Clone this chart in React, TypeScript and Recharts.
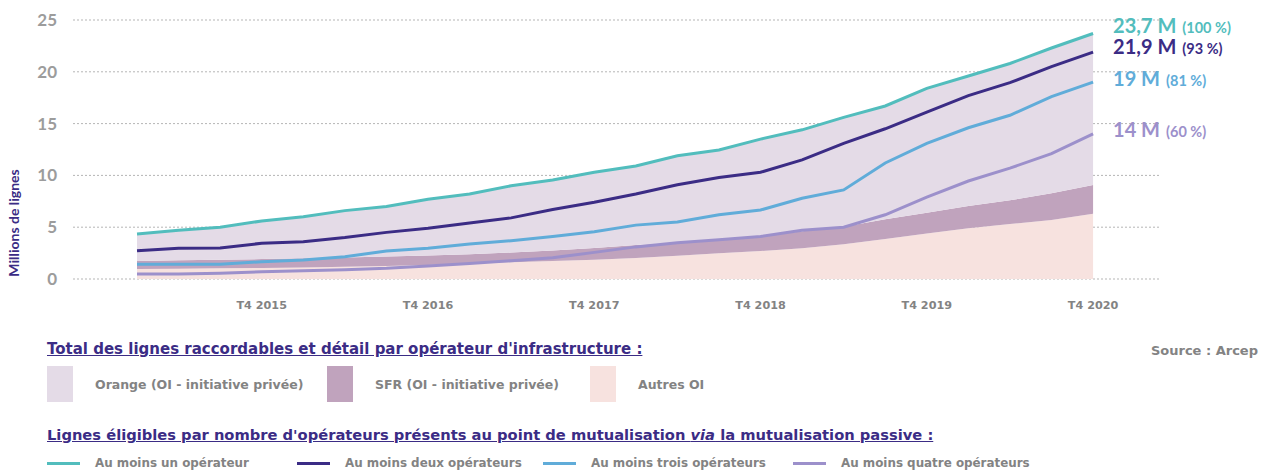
import { ComposedChart, Area, Line, XAxis, YAxis, CartesianGrid } from "recharts";

const quarters = [
  "T1 2015", "T2 2015", "T3 2015", "T4 2015",
  "T1 2016", "T2 2016", "T3 2016", "T4 2016",
  "T1 2017", "T2 2017", "T3 2017", "T4 2017",
  "T1 2018", "T2 2018", "T3 2018", "T4 2018",
  "T1 2019", "T2 2019", "T3 2019", "T4 2019",
  "T1 2020", "T2 2020", "T3 2020", "T4 2020",
];

// lignes raccordables par OI (millions)
const autresOI = [0.97, 1.0, 1.03, 1.07, 1.12, 1.19, 1.25, 1.35, 1.5, 1.62, 1.74, 1.87, 2.03, 2.25, 2.48, 2.7, 2.96, 3.35, 3.86, 4.4, 4.9, 5.3, 5.7, 6.3];
const sfrOI = [0.77, 0.8, 0.82, 0.85, 0.88, 0.89, 0.92, 0.92, 0.9, 0.93, 1.01, 1.13, 1.25, 1.25, 1.3, 1.4, 1.64, 1.7, 1.9, 2.0, 2.15, 2.3, 2.57, 2.77];
const orangeOI = [2.61, 2.9, 3.15, 3.68, 4.0, 4.52, 4.83, 5.43, 5.8, 6.45, 6.8, 7.3, 7.62, 8.4, 8.67, 9.4, 9.8, 10.55, 10.94, 12.0, 12.55, 13.2, 14.03, 14.63];

// lignes éligibles par nombre d'opérateurs au PM (millions)
const auMoins1 = [4.35, 4.7, 5.0, 5.6, 6.0, 6.6, 7.0, 7.7, 8.2, 9.0, 9.55, 10.3, 10.9, 11.9, 12.45, 13.5, 14.4, 15.6, 16.7, 18.4, 19.6, 20.8, 22.3, 23.7];
const auMoins2 = [2.73, 2.96, 3.0, 3.45, 3.6, 4.0, 4.5, 4.9, 5.4, 5.9, 6.7, 7.4, 8.2, 9.1, 9.8, 10.3, 11.5, 13.1, 14.5, 16.1, 17.7, 18.95, 20.5, 21.9];
const auMoins3 = [1.42, 1.42, 1.42, 1.67, 1.83, 2.15, 2.7, 2.96, 3.38, 3.7, 4.1, 4.57, 5.2, 5.5, 6.2, 6.66, 7.8, 8.6, 11.2, 13.1, 14.6, 15.8, 17.6, 19.0];
const auMoins4 = [0.48, 0.48, 0.55, 0.7, 0.8, 0.9, 1.03, 1.25, 1.5, 1.77, 2.06, 2.57, 3.1, 3.5, 3.8, 4.1, 4.7, 5.0, 6.2, 7.9, 9.46, 10.7, 12.1, 14.0];

const endValues = ["23,7 M", "21,9 M", "19 M", "14 M"];
const endShares = ["(100 %)", "(93 %)", "(81 %)", "(60 %)"];
const lineNames = ["Au moins un opérateur", "Au moins deux opérateurs", "Au moins trois opérateurs", "Au moins quatre opérateurs"];
const areaNames = ["Orange (OI - initiative privée)", "SFR (OI - initiative privée)", "Autres OI"];
const yTicks = [0, 5, 10, 15, 20, 25];
const xTicks = [3, 7, 11, 15, 19, 23];

const LINE_KEYS = ["un", "deux", "trois", "quatre"];
const LINE_COLORS = ["#52bdbd", "#3b2c85", "#60acd9", "#9c90cb"];
const LABEL_DY = [0, 2, 4, 3];
const AREA_COLORS = ["#e4dbe7", "#c0a3bd", "#f7e2df"];
const PURPLE = "#3b2c85", GREY = "#838383", AXIS_GREY = "#9c9c9c";
const FONT = "Lato, 'Open Sans', sans-serif";
const WIDE = "'DejaVu Sans', Verdana, sans-serif";

const data = quarters.map((q, i) => ({
  idx: i, q,
  autres: autresOI[i], sfr: sfrOI[i], orange: orangeOI[i],
  un: auMoins1[i], deux: auMoins2[i], trois: auMoins3[i], quatre: auMoins4[i],
}));

const endLabel = (k: number) => (p: any) => {
  if (p.index !== quarters.length - 1) return <g key={p.index} />;
  return (
    <text key={p.index} x={p.x + 20} y={p.y + LABEL_DY[k]} fill={LINE_COLORS[k]} fontFamily={FONT} fontWeight={700}>
      <tspan fontSize={20}>{endValues[k]}</tspan>
      <tspan fontSize={14.5} dx={6}>{endShares[k]}</tspan>
    </text>
  );
};

export default function App() {
  return (
    <div style={{ position: "relative", width: 1265, height: 470, background: "#fff", fontFamily: WIDE, overflow: "hidden" }}>
      <style>{"body{margin:0}"}</style>
      <ComposedChart width={1265} height={330} data={data} margin={{ top: 20, right: 105, bottom: 11, left: 0 }}>
        <CartesianGrid vertical={false} stroke="#b5b5b5" strokeDasharray="2 2" />
        <XAxis dataKey="idx" type="number" domain={[-1.54, 24.61]} ticks={xTicks} tickFormatter={(i: number) => quarters[i]}
          axisLine={false} tickLine={false} tickSize={0} tickMargin={22} height={40}
          tick={{ fill: GREY, fontSize: 11.2, fontWeight: 700, fontFamily: WIDE }} />
        <YAxis domain={[0, 25]} ticks={yTicks} width={73} axisLine={false} tickLine={false} tickSize={0} tickMargin={16}
          tick={{ fill: AXIS_GREY, fontSize: 17, fontWeight: 700, fontFamily: FONT }} />
        <Area type="linear" dataKey="autres" stackId="oi" stroke="none" fill={AREA_COLORS[2]} fillOpacity={1} isAnimationActive={false} />
        <Area type="linear" dataKey="sfr" stackId="oi" stroke="none" fill={AREA_COLORS[1]} fillOpacity={1} isAnimationActive={false} />
        <Area type="linear" dataKey="orange" stackId="oi" stroke="none" fill={AREA_COLORS[0]} fillOpacity={1} isAnimationActive={false} />
        {[3, 2, 1, 0].map((k) => (
          <Line key={k} type="linear" dataKey={LINE_KEYS[k]} stroke={LINE_COLORS[k]} strokeWidth={3} dot={false}
            label={endLabel(k)} isAnimationActive={false} />
        ))}
      </ComposedChart>

      <svg style={{ position: "absolute", left: 0, top: 0 }} width={40} height={330}>
        <text x={19} y={223} transform="rotate(-90 19 223)" textAnchor="middle" fill={PURPLE} fontSize={14} fontWeight={700} fontFamily={FONT}>
          Millions de lignes
        </text>
      </svg>

      <div style={{ position: "absolute", left: 47, top: 340, fontSize: 15, lineHeight: "18px", fontWeight: 700, color: PURPLE, textDecoration: "underline", whiteSpace: "nowrap" }}>
        Total des lignes raccordables et détail par opérateur d'infrastructure :
      </div>
      <div style={{ position: "absolute", right: 7, top: 342, fontSize: 13, lineHeight: "18px", fontWeight: 700, color: GREY }}>Source : Arcep</div>

      {areaNames.map((n, i) => (
        <div key={n} style={{ position: "absolute", left: [47, 327, 590][i], top: 366, display: "flex", alignItems: "center", height: 36 }}>
          <div style={{ width: 26, height: 36, background: AREA_COLORS[i] }} />
          <span style={{ marginLeft: 22, fontSize: 12.5, fontWeight: 700, color: GREY, whiteSpace: "nowrap" }}>{n}</span>
        </div>
      ))}

      <div style={{ position: "absolute", left: 47, top: 426, fontSize: 14.7, lineHeight: "18px", fontWeight: 700, color: PURPLE, textDecoration: "underline", whiteSpace: "nowrap" }}>
        Lignes éligibles par nombre d'opérateurs présents au point de mutualisation <i>via</i> la mutualisation passive :
      </div>

      {lineNames.map((n, i) => (
        <div key={n} style={{ position: "absolute", left: [47, 297, 543, 793][i], top: 455, display: "flex", alignItems: "center", height: 16 }}>
          <div style={{ width: 33, height: 3, background: LINE_COLORS[i] }} />
          <span style={{ marginLeft: 15, fontSize: 11.9, fontWeight: 700, color: GREY, whiteSpace: "nowrap" }}>{n}</span>
        </div>
      ))}
    </div>
  );
}
